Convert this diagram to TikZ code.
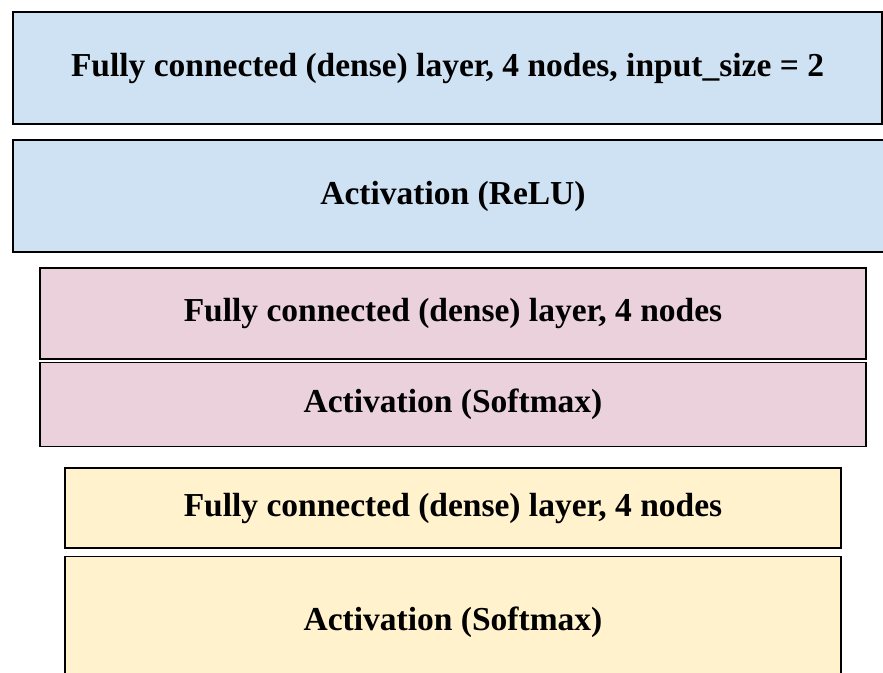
\documentclass[tikz,border=0pt]{standalone}
\usepackage{fontspec}
\setmainfont{Liberation Serif}
\usetikzlibrary{positioning}

\definecolor{bluefill}{HTML}{CFE2F3}
\definecolor{pinkfill}{HTML}{EAD1DC}
\definecolor{yellowfill}{HTML}{FFF2CC}

\tikzset{
  layerbox/.style={rectangle, draw=black, line width=1.3pt, inner sep=0pt, align=center},
}

\begin{document}
\begin{tikzpicture}[x=1pt, y=-1pt, font=\bfseries\fontsize{33.5}{38}\selectfont]
  % Fix the page size and cut off what runs over it
  \useasboundingbox (0,0) rectangle (883,672);
  \clip (0,0) rectangle (883,672);

  % Blue blocks
  \node[layerbox, fill=bluefill, minimum width=869, minimum height=112] (dense1) at (447.5,68) {Fully connected (dense) layer, 4 nodes, input\_size = 2};
  \node[layerbox, fill=bluefill, minimum width=880, minimum height=112] (relu1) at (453,196) {Activation (ReLU)};

  % Pink blocks
  \node[layerbox, fill=pinkfill, minimum width=826, minimum height=91] (dense2) at (453,313.5) {Fully connected (dense) layer, 4 nodes};
  \node[layerbox, fill=pinkfill, minimum width=826, minimum height=84] (softmax2) at (453,404.5) {Activation (Softmax)};

  % Yellow blocks
  \node[layerbox, fill=yellowfill, minimum width=776, minimum height=80] (dense3) at (453,508) {Fully connected (dense) layer, 4 nodes};
  \node[layerbox, fill=yellowfill, minimum width=776, minimum height=131] (softmax3) at (453,622) {Activation (Softmax)};
\end{tikzpicture}
\end{document}
